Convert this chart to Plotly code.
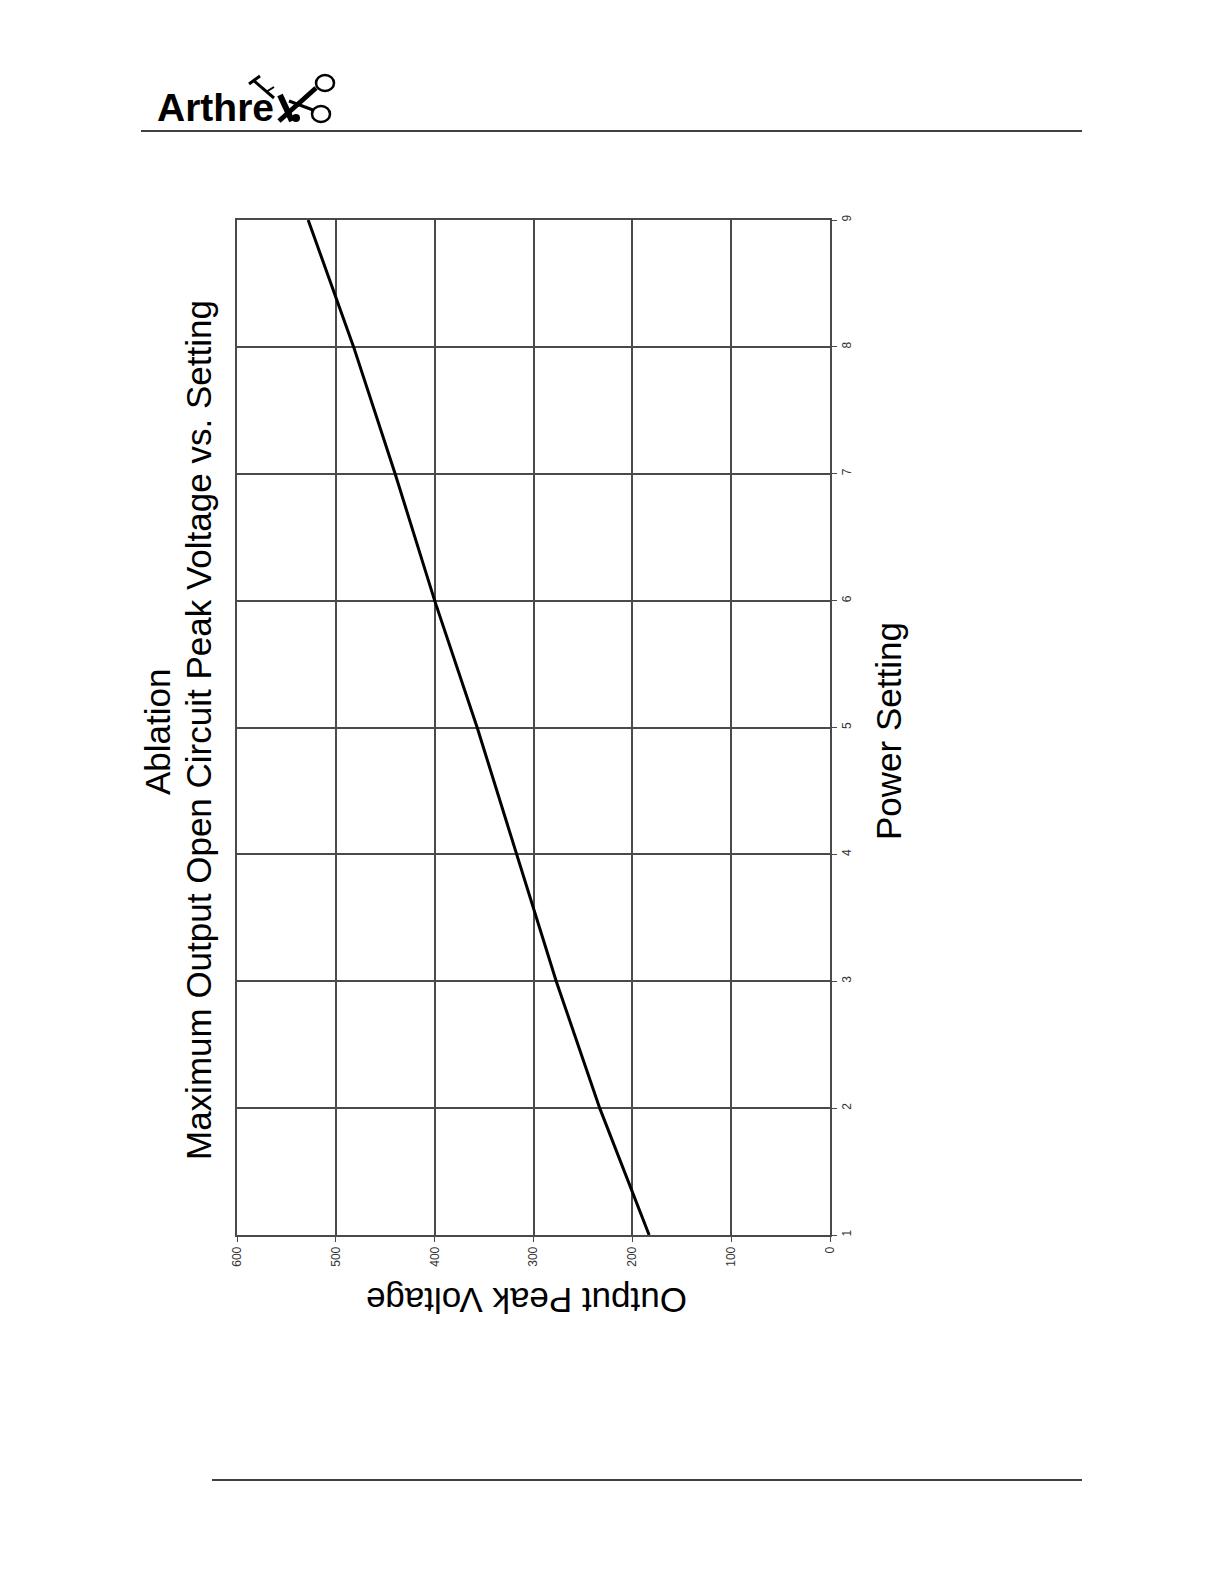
import plotly.graph_objects as go

# Data read from the (rotated) reference chart
power_setting = [1, 2, 3, 4, 5, 6, 7, 8, 9]
peak_voltage = [183, 233, 277, 317, 357, 400, 440, 482, 528]
voltage_ticks = [0, 100, 200, 300, 400, 500, 600]
setting_ticks = [1, 2, 3, 4, 5, 6, 7, 8, 9]

OFF = 8  # default page body margin
W, H = 1224 - 2 * OFF, 1584 - 2 * OFF
# plot area in page pixels
PL, PR, PT, PB = 237, 830, 220, 1235
L, R, T, B = PL - OFF, PR - OFF, PT - OFF, PB - OFF


def px(x):
    return (x - PL) / (PR - PL)


def py(y):
    return (PB - y) / (PB - PT)


fig = go.Figure()
fig.add_trace(go.Scatter(
    x=peak_voltage, y=power_setting, mode="lines",
    line=dict(color="#000000", width=3), showlegend=False, hoverinfo="skip"))

grid = "#4a4a4a"
tickfont = dict(size=12, color="#333333", family="Liberation Sans, Arial, sans-serif")
common = dict(showgrid=True, gridcolor=grid, gridwidth=1.5,
              showline=True, linecolor=grid, linewidth=1.8, mirror=True,
              ticks="outside", ticklen=5, tickcolor=grid, tickwidth=1.2,
              zeroline=False, fixedrange=True, tickangle=-90, tickfont=tickfont)
fig.update_layout(
    width=W, height=H,
    margin=dict(l=L, r=W - R, t=T, b=H - B, pad=0),
    paper_bgcolor="white", plot_bgcolor="white",
    font=dict(family="Liberation Sans, Arial, sans-serif", color="#000"),
    xaxis=dict(range=[600, 0], tickvals=voltage_ticks,
               ticktext=[str(v) for v in voltage_ticks], **common),
    yaxis=dict(range=[1, 9], tickvals=setting_ticks,
               ticktext=[str(v) for v in setting_ticks], side="right", **common),
)

anns = [
    dict(text="Ablation", x=px(157), y=py(732), textangle=-90, size=35),
    dict(text="Maximum Output Open Circuit Peak Voltage vs. Setting",
         x=px(198), y=py(730), textangle=-90, size=35),
    dict(text="Power Setting", x=px(888), y=py(731), textangle=-90, size=35),
    dict(text="Output Peak Voltage", x=px(527), y=py(1301), textangle=180, size=35),
]
for a in anns:
    fig.add_annotation(text=a["text"], x=a["x"], y=a["y"], xref="paper", yref="paper",
                       textangle=a["textangle"], showarrow=False,
                       xanchor="center", yanchor="middle",
                       font=dict(size=a["size"], color="#000",
                                 family="Liberation Sans, Arial, sans-serif"))

# Header logo text
fig.add_annotation(text="<b>Arthre</b>", x=px(155), y=py(131), xref="paper", yref="paper",
                   xanchor="left", yanchor="bottom", showarrow=False,
                   font=dict(size=39, color="#000", family="Liberation Sans, Arial, sans-serif"))

P = dict(xref="paper", yref="paper")
shapes = []
# header & footer rules
shapes.append(dict(type="line", x0=px(141), x1=px(1082), y0=py(131), y1=py(131),
                   line=dict(color="#000", width=1.3), **P))
shapes.append(dict(type="line", x0=px(212), x1=px(1082), y0=py(1480), y1=py(1480),
                   line=dict(color="#000", width=1.3), **P))
# stylised "X" of the logo (scissor blades)
shapes.append(dict(type="line", x0=px(280), x1=px(292), y0=py(95), y1=py(121),
                   line=dict(color="#000", width=6), **P))
shapes.append(dict(type="line", x0=px(279), x1=px(316), y0=py(121), y1=py(88),
                   line=dict(color="#000", width=5), **P))
shapes.append(dict(type="line", x0=px(289), x1=px(313), y0=py(101), y1=py(110),
                   line=dict(color="#000", width=3), **P))
# logo dot
shapes.append(dict(type="circle", x0=px(292), x1=px(300), y0=py(114), y1=py(122),
                   fillcolor="#000", line=dict(color="#000", width=0), **P))
# scissors rings
shapes.append(dict(type="circle", x0=px(316), x1=px(334), y0=py(75), y1=py(91),
                   line=dict(color="#000", width=2.5), **P))
shapes.append(dict(type="circle", x0=px(312), x1=px(330), y0=py(106), y1=py(122),
                   line=dict(color="#000", width=2.5), **P))
# small instrument above
shapes.append(dict(type="line", x0=px(253), x1=px(274), y0=py(80), y1=py(98),
                   line=dict(color="#000", width=3), **P))
shapes.append(dict(type="path", path="M 0 0", **P)) if False else None
shapes.append(dict(type="line", x0=px(249), x1=px(260), y0=py(84), y1=py(76),
                   line=dict(color="#000", width=3), **P))
shapes.append(dict(type="line", x0=px(266), x1=px(274), y0=py(92), y1=py(87),
                   line=dict(color="#000", width=2), **P))
fig.update_layout(shapes=shapes)

fig.write_html("out.html")
